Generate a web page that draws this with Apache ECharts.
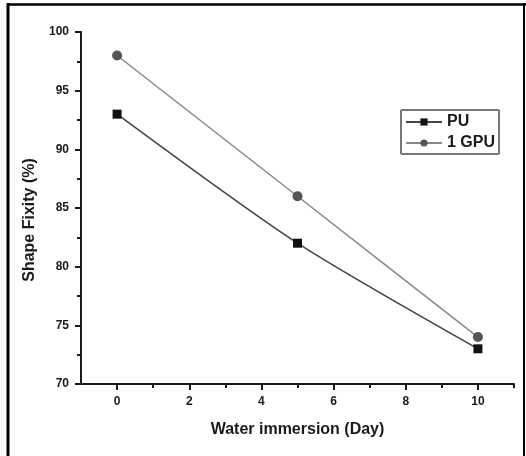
<!DOCTYPE html>
<html>
<head>
<meta charset="utf-8">
<script src="https://cdn.jsdelivr.net/npm/echarts@6/dist/echarts.min.js"></script>
<style>html,body{margin:0;padding:0;background:#fff;}#c{width:526px;height:456px;}</style>
</head>
<body>
<div id="c"></div>
<script>
var days = [0, 5, 10];
var puValues = [93, 82, 73];
var gpuValues = [98, 86, 74];
var xMajorTicks = [0, 2, 4, 6, 8, 10];
var xMinorTicks = [1, 3, 5, 7, 9, 11];
var seriesNames = ['PU', '1 GPU'];

var FONT = '"Liberation Sans", Arial, sans-serif';
var chart = echarts.init(document.getElementById('c'), null, {renderer: 'canvas'});

function pairs(xs, ys) { return xs.map(function (x, i) { return [x, ys[i]]; }); }

chart.setOption({
  backgroundColor: '#ffffff',
  animation: false,
  grid: {left: 81, right: 12, top: 32, bottom: 72, containLabel: false},
  xAxis: [{
    type: 'value', min: -1, max: 11, position: 'bottom',
    name: 'Water immersion (Day)', nameLocation: 'middle', nameGap: 38,
    nameTextStyle: {fontFamily: FONT, fontWeight: 'bold', fontSize: 16, color: '#1a1a1a'},
    axisLine: {show: true, onZero: false, lineStyle: {color: '#1a1a1a', width: 2}},
    axisTick: {show: true, inside: false, length: 6, customValues: xMajorTicks, lineStyle: {color: '#1a1a1a', width: 2}},
    axisLabel: {show: true, customValues: xMajorTicks, margin: 12, fontFamily: FONT, fontWeight: 'bold', fontSize: 12, color: '#1a1a1a'},
    splitLine: {show: false}
  }, {
    type: 'value', min: -1, max: 11, position: 'bottom', offset: 0,
    axisLine: {show: false, onZero: false},
    axisTick: {show: true, inside: false, length: 4, customValues: xMinorTicks, lineStyle: {color: '#1a1a1a', width: 2}},
    axisLabel: {show: false},
    splitLine: {show: false}
  }],
  yAxis: {
    type: 'value', min: 70, max: 100, interval: 5, position: 'left',
    name: 'Shape Fixity (%)', nameLocation: 'middle', nameGap: 42,
    nameTextStyle: {fontFamily: FONT, fontWeight: 'bold', fontSize: 16, color: '#1a1a1a', padding: [0, 24, 0, 0]},
    axisLine: {show: true, onZero: false, lineStyle: {color: '#1a1a1a', width: 2}},
    axisTick: {show: true, inside: false, length: 6, lineStyle: {color: '#1a1a1a', width: 2}},
    minorTick: {show: true, splitNumber: 2, length: 4, lineStyle: {color: '#1a1a1a', width: 2}},
    axisLabel: {margin: 12, fontFamily: FONT, fontWeight: 'bold', fontSize: 12, color: '#1a1a1a'},
    splitLine: {show: false}
  },
  legend: {
    orient: 'vertical', left: 401, top: 110,
    itemWidth: 36, itemHeight: 9, itemGap: 5,
    padding: [4, 4, 3, 4],
    borderColor: '#777', borderWidth: 2, borderRadius: 1,
    textStyle: {fontFamily: FONT, fontWeight: 'bold', fontSize: 16, color: '#1a1a1a', padding: [0, 0, 0, 0]},
    data: seriesNames
  },
  series: [{
    name: seriesNames[0], type: 'line', xAxisIndex: 0,
    data: pairs(days, puValues), smooth: 0.25,
    symbol: 'rect', symbolSize: 9,
    itemStyle: {color: '#111111'},
    lineStyle: {color: '#444444', width: 1.5}
  }, {
    name: seriesNames[1], type: 'line', xAxisIndex: 0,
    data: pairs(days, gpuValues), smooth: 0.25,
    symbol: 'circle', symbolSize: 10,
    itemStyle: {color: '#555555'},
    lineStyle: {color: '#888888', width: 1.5}
  }],
  graphic: [
    {type: 'line', shape: {x1: 8, y1: 3, x2: 8, y2: 456}, style: {stroke: '#000', lineWidth: 3}, silent: true},
    {type: 'line', shape: {x1: 7, y1: 4.5, x2: 526, y2: 4.5}, style: {stroke: '#000', lineWidth: 2.5}, silent: true},
    {type: 'line', shape: {x1: 524, y1: 3, x2: 524, y2: 456}, style: {stroke: '#000', lineWidth: 2}, silent: true}
  ]
});
</script>
</body>
</html>
